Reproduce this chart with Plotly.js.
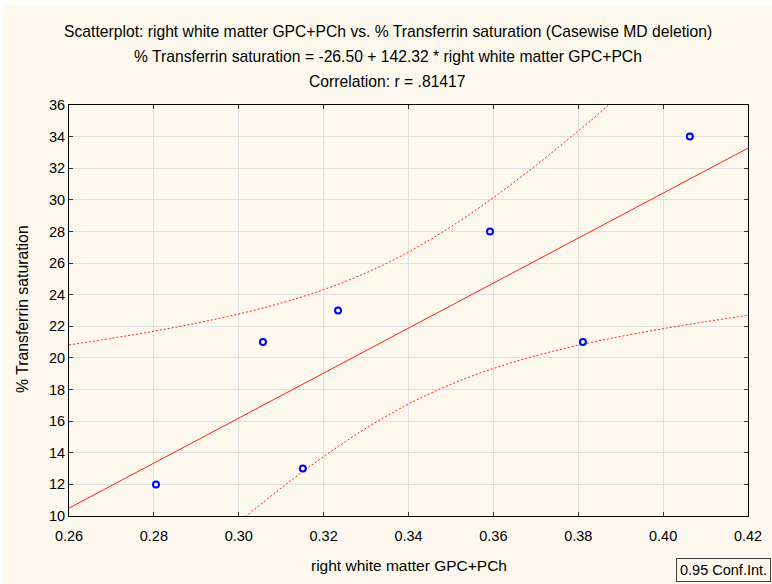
<!DOCTYPE html>
<html>
<head>
<meta charset="utf-8">
<script src="https://cdn.plot.ly/plotly-3.0.1.min.js"></script>
<style>html,body{margin:0;padding:0;background:#ffffff;}#chart{width:772px;height:584px;}</style>
</head>
<body>
<div id="chart"></div>
<script>
var gpcX = [0.2805, 0.3057, 0.3151, 0.3234, 0.3592, 0.3811, 0.4063];
var tsatY = [12, 21, 13, 23, 28, 21, 34];

// Regression line end points
var fitX = [0.26, 0.42];
var fitY = [10.50, 33.27];

// 0.95 confidence band
var bandUpX = [0.26, 0.27, 0.28, 0.29, 0.30, 0.31, 0.32, 0.33, 0.34, 0.35, 0.36, 0.37, 0.38, 0.39, 0.40];
var bandUpY = [20.82, 21.24, 21.69, 22.20, 22.78, 23.47, 24.32, 25.38, 26.70, 28.30, 30.14, 32.18, 34.36, 36.65, 39.00];
var bandLoX = [0.29, 0.30, 0.31, 0.32, 0.33, 0.34, 0.35, 0.36, 0.37, 0.38, 0.39, 0.40, 0.41, 0.42];
var bandLoY = [7.35, 9.61, 11.77, 13.76, 15.55, 17.08, 18.33, 19.33, 20.14, 20.80, 21.36, 21.85, 22.29, 22.70];

var xTicks = [0.26, 0.28, 0.30, 0.32, 0.34, 0.36, 0.38, 0.40, 0.42];
var xTickText = ["0.26", "0.28", "0.30", "0.32", "0.34", "0.36", "0.38", "0.40", "0.42"];
var yTicks = [10, 12, 14, 16, 18, 20, 22, 24, 26, 28, 30, 32, 34, 36];

var titleLines = [
  "Scatterplot: right white matter GPC+PCh vs. % Transferrin saturation (Casewise MD deletion)",
  "% Transferrin saturation = -26.50 + 142.32 * right white matter GPC+PCh",
  "Correlation: r = .81417"
];
var xTitle = "right white matter GPC+PCh";
var yTitle = "% Transferrin saturation";
var legendText = "0.95 Conf.Int.";

var FONT = "Liberation Sans, Arial, sans-serif";
var cream = "#fdf9ee";

var traces = [
  {x: bandUpX, y: bandUpY, mode: "lines", line: {color: "#ff2020", width: 1, dash: "2px,2px", shape: "spline"}, hoverinfo: "skip"},
  {x: bandLoX, y: bandLoY, mode: "lines", line: {color: "#ff2020", width: 1, dash: "2px,2px", shape: "spline"}, hoverinfo: "skip"},
  {x: fitX, y: fitY, mode: "lines", line: {color: "#ff2020", width: 1}},
  {x: gpcX, y: tsatY, mode: "markers", marker: {symbol: "circle-open", size: 6, color: "#0000ff", line: {width: 2, color: "#0000ff"}}}
];

var axisCommon = {
  showline: true, linecolor: "#000000", linewidth: 1, mirror: "ticks",
  ticks: "inside", ticklen: 4, tickcolor: "#333333", tickwidth: 1,
  showgrid: true, gridcolor: "#e0e0e0", gridwidth: 1, zeroline: false,
  tickfont: {family: FONT, size: 14.5, color: "#000000"}
};

var layout = {
  width: 772, height: 584,
  margin: {l: 69, r: 24, t: 105, b: 68},
  paper_bgcolor: "#ffffff",
  plot_bgcolor: "#ffffff",
  showlegend: false,
  xaxis: Object.assign({}, axisCommon, {range: [0.26, 0.42], tickvals: xTicks, ticktext: xTickText, ticklabelstandoff: 7}),
  yaxis: Object.assign({}, axisCommon, {range: [10, 36], tickvals: yTicks}),
  shapes: [
    {type: "rect", xref: "paper", yref: "paper", x0: -0.0972, x1: 1.04, y0: -0.17, y1: 1.2433,
     fillcolor: cream, line: {width: 0}, layer: "below"}
  ],
  annotations: [
    {text: titleLines[0], xref: "paper", yref: "paper", x: (388 - 69) / 679, y: (516 - 31) / 411, xanchor: "center", yanchor: "middle", showarrow: false, font: {family: FONT, size: 15.7, color: "#000"}},
    {text: titleLines[1], xref: "paper", yref: "paper", x: (388 - 69) / 679, y: (516 - 56) / 411, xanchor: "center", yanchor: "middle", showarrow: false, font: {family: FONT, size: 15.7, color: "#000"}},
    {text: titleLines[2], xref: "paper", yref: "paper", x: (387 - 69) / 679, y: (516 - 82) / 411, xanchor: "center", yanchor: "middle", showarrow: false, font: {family: FONT, size: 15.7, color: "#000"}},
    {text: xTitle, xref: "paper", yref: "paper", x: (409 - 69) / 679, y: (516 - 565) / 411, xanchor: "center", yanchor: "middle", showarrow: false, font: {family: FONT, size: 15.5, color: "#000"}},
    {text: yTitle, xref: "paper", yref: "paper", x: (22 - 69) / 679, y: (516 - 309) / 411, xanchor: "center", yanchor: "middle", textangle: -90, showarrow: false, font: {family: FONT, size: 15.8, color: "#000"}},
    {text: legendText, xref: "paper", yref: "paper", x: (723 - 69) / 679, y: (516 - 569.5) / 411, xanchor: "center", yanchor: "middle", showarrow: false,
     bordercolor: "#404040", borderwidth: 1, borderpad: 3, bgcolor: cream, font: {family: FONT, size: 14.5, color: "#000"}}
  ]
};

Plotly.newPlot("chart", traces, layout, {displayModeBar: false, staticPlot: true});
</script>
</body>
</html>
